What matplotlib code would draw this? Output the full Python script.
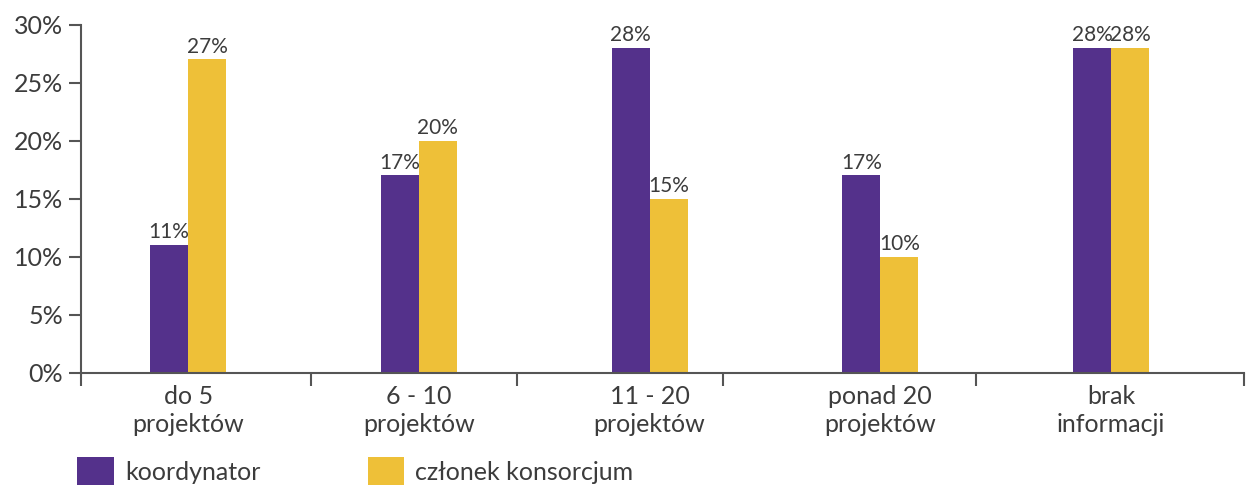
import matplotlib
matplotlib.use("Agg")
import matplotlib.pyplot as plt
import numpy as np

# dane
kategorie = ["do 5\nprojektów", "6 - 10\nprojektów", "11 - 20\nprojektów",
             "ponad 20\nprojektów", "brak\ninformacji"]
koordynator = [11, 17, 28, 17, 28]
czlonek = [27, 20, 15, 10, 28]
serie = ["koordynator", "członek konsorcjum"]

fiolet = "#54318b"
zolty = "#eec038"
tekst = "#3c3c3c"
os_kolor = "#555555"

plt.rcParams["font.family"] = ["Lato", "DejaVu Sans"]

fig = plt.figure(figsize=(12.47, 4.88), dpi=100)
ax = fig.add_axes([0.065, 0.2363, 0.9326, 0.7131])

x = np.arange(len(kategorie))
w = 0.165
b1 = ax.bar(x - w / 2, np.array(koordynator) / 100, w, color=fiolet, label=serie[0])
b2 = ax.bar(x + w / 2, np.array(czlonek) / 100, w, color=zolty, label=serie[1])

# etykiety wartości nad słupkami
for bars, vals in ((b1, koordynator), (b2, czlonek)):
    for r, v in zip(bars, vals):
        ax.annotate(f"{v}%", (r.get_x() + r.get_width() / 2, r.get_height()),
                    xytext=(0, 2), textcoords="offset points",
                    ha="center", va="bottom", fontsize=15, color=tekst)

ax.set_ylim(0, 0.30)
ax.set_xlim(-0.464, 4.576)
ax.set_yticks(np.arange(0, 0.31, 0.05))
ax.set_yticklabels([f"{int(round(t * 100))}%" for t in np.arange(0, 0.31, 0.05)])

ax.set_xticks(x)
ax.set_xticklabels(kategorie, linespacing=1.25)
ax.set_xticks([-0.464, 0.533, 1.426, 2.319, 3.415, 4.576], minor=True)

ax.tick_params(axis="x", which="major", length=0, pad=9, labelsize=18,
               labelcolor=tekst)
ax.tick_params(axis="x", which="minor", length=9, width=1.5, color=os_kolor)
ax.tick_params(axis="y", length=9, width=1.5, color=os_kolor, labelsize=18,
               labelcolor=tekst, pad=4)

for s in ("top", "right"):
    ax.spines[s].set_visible(False)
for s in ("left", "bottom"):
    ax.spines[s].set_color(os_kolor)
    ax.spines[s].set_linewidth(1.5)

ax.legend(loc="center left", bbox_to_anchor=(0.052, 0.034),
          bbox_transform=fig.transFigure, ncol=2, frameon=False,
          fontsize=18, handlelength=1.45, handleheight=1.35,
          handletextpad=0.45, columnspacing=4.3, borderpad=0,
          labelcolor=tekst)

fig.savefig("out.png", dpi=100)
